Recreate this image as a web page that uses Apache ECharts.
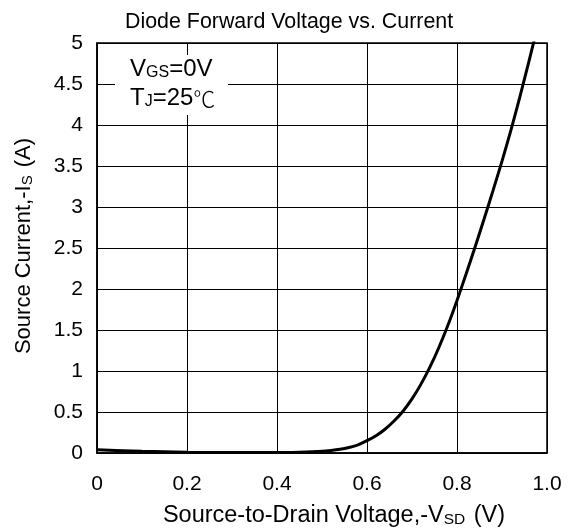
<!DOCTYPE html>
<html>
<head>
<meta charset="utf-8">
<script src="https://cdn.jsdelivr.net/npm/echarts@6/dist/echarts.min.js"></script>
<style>
html,body{margin:0;padding:0;background:#fff;}
#c{width:569px;height:531px;}
</style>
</head>
<body>
<div id="c"></div>
<script>
// Source-to-drain voltage (V)
const voltage = [0, 0.1, 0.2, 0.3, 0.4, 0.45, 0.5, 0.52, 0.54, 0.56, 0.58, 0.6, 0.62, 0.64, 0.66, 0.68, 0.7, 0.72, 0.74, 0.76, 0.78, 0.8, 0.82, 0.84, 0.86, 0.88, 0.9, 0.92, 0.94, 0.96, 0.98];
// Source current (A)
const current = [0.04, 0.02, 0.01, 0.005, 0.005, 0.01, 0.02, 0.03, 0.045, 0.068, 0.1, 0.15, 0.21, 0.29, 0.39, 0.51, 0.66, 0.84, 1.05, 1.29, 1.56, 1.86, 2.18, 2.51, 2.85, 3.2, 3.56, 3.94, 4.35, 4.78, 5.22];
const xTicks = ['0', '0.2', '0.4', '0.6', '0.8', '1.0'];
const yTicks = ['0', '0.5', '1', '1.5', '2', '2.5', '3', '3.5', '4', '4.5', '5'];

const FONT = "'Liberation Sans', Arial, sans-serif";
const chart = echarts.init(document.getElementById('c'), null, {renderer: 'canvas'});

const gridL = 97, gridT = 43, gridR = 22, gridB = 78;

chart.setOption({
  animation: false,
  backgroundColor: '#fff',
  title: {
    text: 'Diode Forward Voltage vs. Current',
    left: 120,
    top: 7,
    textStyle: {fontFamily: FONT, fontSize: 21.4, fontWeight: 'normal', color: '#000'}
  },
  grid: {left: gridL, top: gridT, right: gridR, bottom: gridB, containLabel: false, outerBoundsMode: 'none', show: true, borderColor: '#000', borderWidth: 1.5, backgroundColor: 'transparent'},
  xAxis: {
    type: 'value', min: 0, max: 1, interval: 0.2,
    axisLine: {show: true, lineStyle: {color: '#000', width: 1.5}},
    axisTick: {show: false},
    splitLine: {show: true, lineStyle: {color: '#000', width: 1}},
    axisLabel: {
      color: '#000', fontFamily: FONT, fontSize: 21, margin: 21,
      formatter: function (v) { return xTicks[Math.round(v / 0.2)]; }
    },
    name: '{a|Source-to-Drain Voltage,-V}{s|SD}{a| (V)}',
    nameLocation: 'middle',
    nameGap: 49,
    nameTextStyle: {
      padding: [0, 0, 0, 24],
      rich: {
        a: {fontFamily: FONT, fontSize: 23.5, color: '#000', lineHeight: 26, verticalAlign: 'bottom'},
        s: {fontFamily: FONT, fontSize: 15.5, color: '#000', lineHeight: 26, verticalAlign: 'bottom', padding: [0, 2, 0, 0]}
      }
    }
  },
  yAxis: {
    type: 'value', min: 0, max: 5, interval: 0.5,
    axisLine: {show: true, lineStyle: {color: '#000', width: 1.5}},
    axisTick: {show: false},
    splitLine: {show: true, lineStyle: {color: '#000', width: 1}},
    axisLabel: {
      color: '#000', fontFamily: FONT, fontSize: 21, margin: 14,
      formatter: function (v) { return yTicks[Math.round(v / 0.5)]; }
    },
    name: '{a|Source Current,-I}{s|S}{a| (A)}',
    nameLocation: 'middle',
    nameGap: 62,
    nameRotate: 90,
    nameTextStyle: {
      padding: [0, 0, 0, 4],
      rich: {
        a: {fontFamily: FONT, fontSize: 22, color: '#000', lineHeight: 24, verticalAlign: 'bottom'},
        s: {fontFamily: FONT, fontSize: 15, color: '#000', lineHeight: 24, verticalAlign: 'bottom', padding: [0, 2, 0, 0]}
      }
    }
  },
  series: [{
    type: 'line',
    data: voltage.map((v, i) => [v, current[i]]),
    smooth: 0.3,
    showSymbol: false,
    lineStyle: {color: '#000', width: 3},
    clip: true,
    z: 5
  }],
  graphic: [
    {type: 'rect', left: 115, top: 55, shape: {width: 113, height: 60}, style: {fill: '#fff'}, z: 10},
    {
      type: 'text', left: 130, top: 57, z: 11,
      style: {
        text: '{a|V}{s|GS}{a|=0V}',
        rich: {
          a: {fontFamily: FONT, fontSize: 24, fill: '#000', lineHeight: 26, verticalAlign: 'bottom'},
          s: {fontFamily: FONT, fontSize: 16, fill: '#000', lineHeight: 26, verticalAlign: 'bottom'}
        }
      }
    },
    {
      type: 'text', left: 130, top: 86, z: 11,
      style: {
        text: '{a|T}{s|J}{a|=25}{c|℃}',
        rich: {
          a: {fontFamily: FONT, fontSize: 24, fill: '#000', lineHeight: 26, verticalAlign: 'bottom'},
          s: {fontFamily: FONT, fontSize: 16, fill: '#000', lineHeight: 26, verticalAlign: 'bottom'},
          c: {fontFamily: "'Noto Sans CJK SC', sans-serif", fontSize: 22, fontWeight: 300, fill: '#000', lineHeight: 26, verticalAlign: 'bottom'}
        }
      }
    }
  ]
});
</script>
</body>
</html>
